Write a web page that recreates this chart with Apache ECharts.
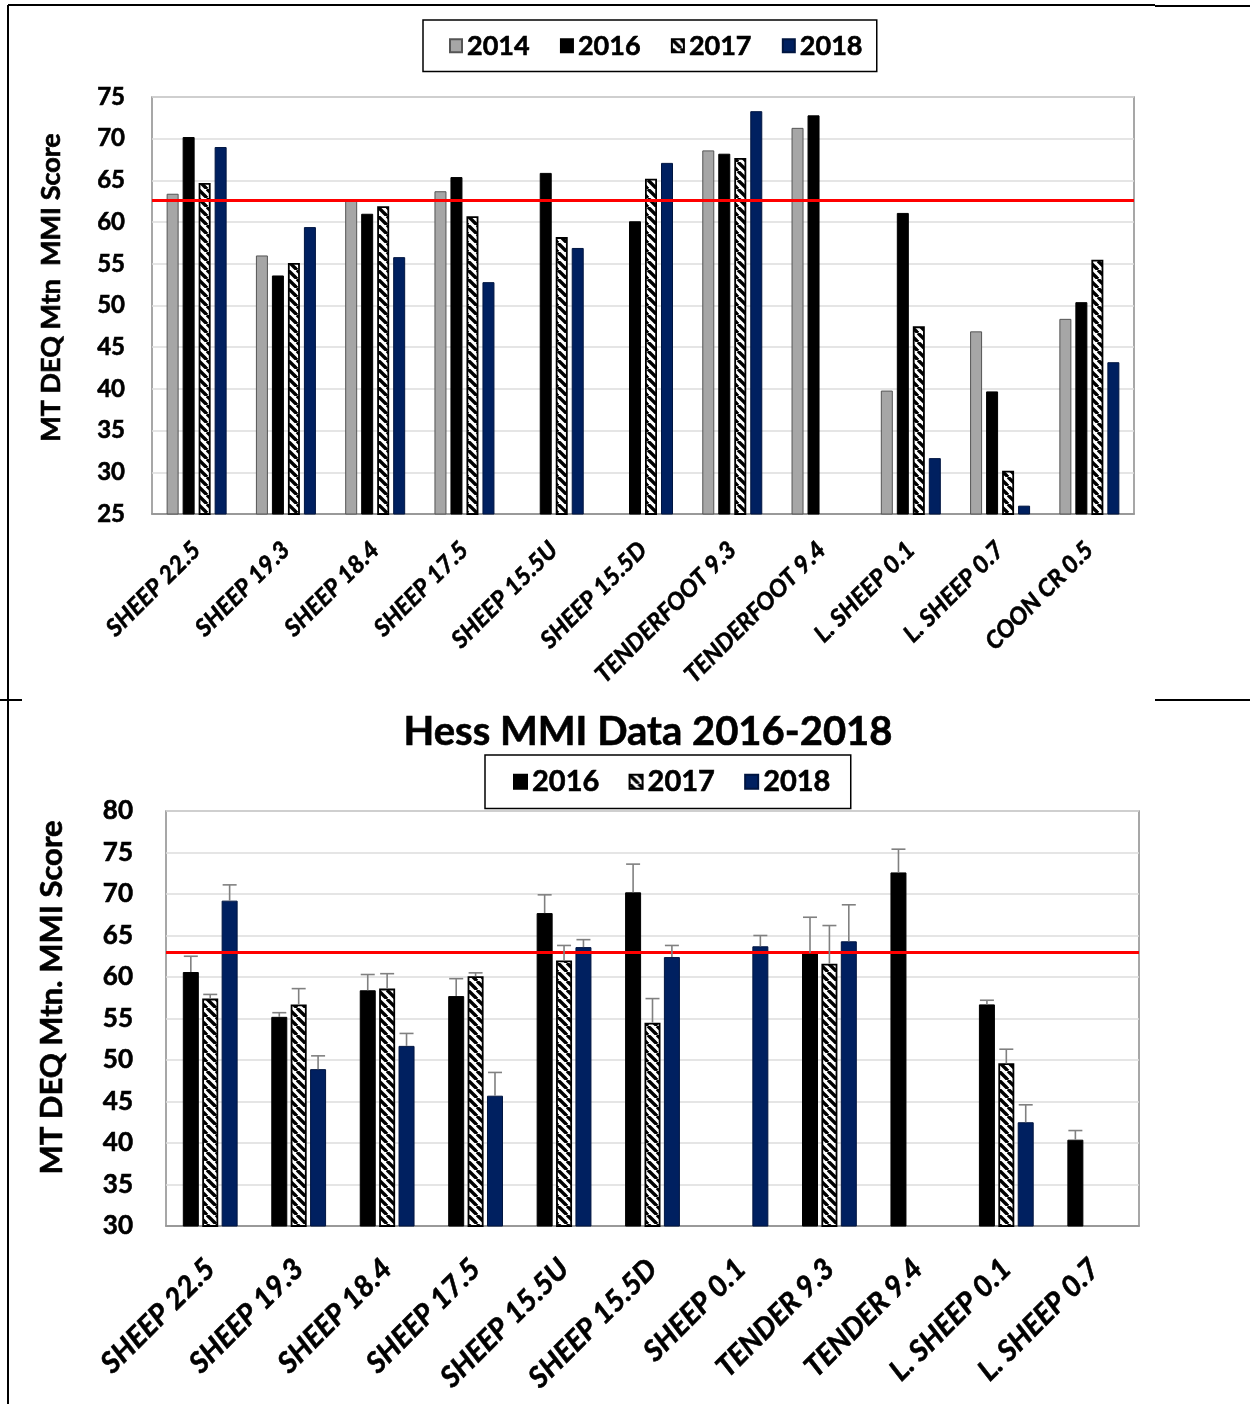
<!DOCTYPE html>
<html>
<head>
<meta charset="utf-8">
<title>MMI Scores</title>
<script src="https://cdn.jsdelivr.net/npm/echarts@6/dist/echarts.min.js"></script>
<style>
  html, body { margin: 0; padding: 0; background: #fff; }
  #chart { width: 1250px; height: 1404px; }
</style>
</head>
<body>
<div id="chart"></div>
<script>
// ---- Upper chart: MT DEQ Mtn MMI scores, 2014-2018 ----
const sitesA = ['SHEEP 22.5', 'SHEEP 19.3', 'SHEEP 18.4', 'SHEEP 17.5', 'SHEEP 15.5U', 'SHEEP 15.5D',
  'TENDERFOOT 9.3', 'TENDERFOOT 9.4', 'L. SHEEP 0.1', 'L. SHEEP 0.7', 'COON CR 0.5'];
const a2014 = [63.4, 56.0, 62.6, 63.7, null, null, 68.6, 71.3, 39.8, 46.9, 48.4];
const a2016 = [70.2, 53.6, 61.0, 65.4, 65.9, 60.1, 68.2, 72.8, 61.1, 39.7, 50.4];
const a2017 = [64.7, 55.1, 61.9, 60.7, 58.2, 65.2, 67.7, null, 47.5, 30.2, 55.5];
const a2018 = [69.0, 59.4, 55.8, 52.8, 56.9, 67.1, 73.3, null, 31.7, 26.0, 43.2];
const thresholdA = 62.6;

// ---- Lower chart: Hess MMI data 2016-2018 with upper error bars ----
const sitesB = ['SHEEP 22.5', 'SHEEP 19.3', 'SHEEP 18.4', 'SHEEP 17.5', 'SHEEP 15.5U', 'SHEEP 15.5D',
  'SHEEP 0.1', 'TENDER 9.3', 'TENDER 9.4', 'L. SHEEP 0.1', 'L. SHEEP 0.7'];
const b2016 = [60.6, 55.2, 58.4, 57.7, 67.7, 70.2, null, 62.9, 72.6, 56.7, 40.4];
const b2017 = [57.4, 56.7, 58.6, 60.1, 62.0, 54.5, null, 61.6, null, 49.6, null];
const b2018 = [69.2, 48.9, 51.7, 45.7, 63.6, 62.4, 63.7, 64.3, null, 42.5, null];
const e2016 = [1.9, 0.5, 1.9, 2.1, 2.2, 3.4, null, 4.3, 2.8, 0.5, 1.1];
const e2017 = [0.5, 1.9, 1.8, 0.4, 1.8, 2.9, null, 4.6, null, 1.7, null];
const e2018 = [1.9, 1.6, 1.5, 2.8, 0.9, 1.4, 1.3, 4.4, null, 2.1, null];
const thresholdB = 63;

const yTicksA = { min: 25, max: 75, interval: 5 };
const yTicksB = { min: 30, max: 80, interval: 5 };

// colours
const GRAY = '#a6a6a6';
const NAVY = '#002060';
const FONT = 'Lato, "Open Sans", sans-serif';

// wide downward-diagonal hatch used for the 2017 bars
function hatchPattern() {
  const n = 9;
  const c = document.createElement('canvas');
  c.width = n; c.height = n;
  const ctx = c.getContext('2d');
  ctx.fillStyle = '#fff';
  ctx.fillRect(0, 0, n, n);
  ctx.strokeStyle = '#000';
  ctx.lineWidth = 3.4;
  [-n, 0, n].forEach(function (x0) {
    ctx.beginPath();
    ctx.moveTo(x0, 0);
    ctx.lineTo(x0 + n, n);
    ctx.stroke();
  });
  return c;
}
const HATCH = { image: hatchPattern(), repeat: 'repeat' };

const styles = {
  '2014': { color: GRAY, borderColor: '#555', borderWidth: 1 },
  '2016': { color: '#000', borderColor: '#000', borderWidth: 1 },
  '2017': { color: HATCH, borderColor: '#000', borderWidth: 1.8 },
  '2018': { color: NAVY, borderColor: '#001540', borderWidth: 1 }
};

const barWA = 12, gapA = 4;
const barWB = 16, gapB = 3.4;

// heavier text, close to a bold office font
function boldText(fs, extra) {
  return Object.assign({
    fontFamily: FONT, fontWeight: 'bold', fontSize: fs, color: '#000',
    textBorderColor: '#000', textBorderWidth: 0.6
  }, extra || {});
}

function barSeries(name, data, axis, bw, gap) {
  return {
    name: name,
    type: 'bar',
    xAxisIndex: axis,
    yAxisIndex: axis,
    data: data,
    barWidth: bw,
    barGap: (gap / bw * 100) + '%',
    itemStyle: styles[name],
    emphasis: { disabled: true },
    animation: false
  };
}

function thresholdLine(value) {
  return {
    silent: true,
    symbol: 'none',
    label: { show: false },
    lineStyle: { color: '#ff0000', width: 3, type: 'solid' },
    data: [{ yAxis: value }]
  };
}

// error bars: stem upward from each bar top with a short cap
const errYears = [
  { vals: b2016, errs: e2016 },
  { vals: b2017, errs: e2017 },
  { vals: b2018, errs: e2018 }
];
const errSeries = errYears.map(function (yr, k) {
  const pts = [];
  yr.vals.forEach(function (v, i) {
    if (v != null && yr.errs[i] != null) pts.push([i, v, yr.errs[i]]);
  });
  const offset = (k - 1) * (barWB + gapB);
  return {
    type: 'custom',
    xAxisIndex: 1,
    yAxisIndex: 1,
    z: 5,
    silent: true,
    animation: false,
    data: pts,
    encode: { x: 0, y: 1 },
    renderItem: function (params, api) {
      const base = api.coord([api.value(0), api.value(1)]);
      const top = api.coord([api.value(0), api.value(1) + api.value(2)]);
      const x = base[0] + offset;
      const st = { stroke: '#808080', lineWidth: 1.6 };
      return {
        type: 'group',
        children: [
          { type: 'line', shape: { x1: x, y1: base[1], x2: x, y2: top[1] }, style: st },
          { type: 'line', shape: { x1: x - 7, y1: top[1], x2: x + 7, y2: top[1] }, style: st }
        ]
      };
    }
  };
});

const seriesA = [
  barSeries('2014', a2014, 0, barWA, gapA),
  barSeries('2016', a2016, 0, barWA, gapA),
  barSeries('2017', a2017, 0, barWA, gapA),
  barSeries('2018', a2018, 0, barWA, gapA)
];
seriesA[0].markLine = thresholdLine(thresholdA);

const seriesB = [
  barSeries('2016', b2016, 1, barWB, gapB),
  barSeries('2017', b2017, 1, barWB, gapB),
  barSeries('2018', b2018, 1, barWB, gapB)
];
seriesB[0].markLine = thresholdLine(thresholdB);

// lift: shifts the rotated axis title upward along the axis
function valueAxis(gi, ticks, name, fs, nameFs, margin, nameGap, lift) {
  return {
    type: 'value',
    gridIndex: gi,
    min: ticks.min, max: ticks.max, interval: ticks.interval,
    name: name,
    nameLocation: 'middle',
    nameRotate: 90,
    nameGap: nameGap,
    nameTextStyle: boldText(nameFs, { padding: [0, 0, 0, lift * 2] }),
    axisLine: { show: false },
    axisTick: { show: false },
    axisLabel: Object.assign(boldText(fs), { margin: margin }),
    splitLine: { lineStyle: { color: '#dcdcdc', width: 1.5 } }
  };
}

function categoryAxis(gi, cats, fs, margin) {
  return {
    type: 'category',
    gridIndex: gi,
    data: cats,
    axisLine: { lineStyle: { color: '#888', width: 1.5 } },
    axisTick: { show: false },
    axisLabel: Object.assign(boldText(fs, { fontStyle: 'italic' }), {
      interval: 0, rotate: 45, margin: margin
    })
  };
}

const option = {
  backgroundColor: '#fff',
  animation: false,
  title: {
    text: 'Hess MMI Data 2016-2018',
    left: 643, textAlign: 'center',
    top: 707,
    textStyle: boldText(40)
  },
  legend: [
    {
      data: ['2014', '2016', '2017', '2018'],
      left: 423, top: 20,
      orient: 'horizontal',
      icon: 'rect',
      itemWidth: 12, itemHeight: 13, itemGap: 30,
      padding: [12, 14, 12, 26],
      borderColor: '#000', borderWidth: 1.5,
      backgroundColor: '#fff',
      textStyle: boldText(27),
      selectedMode: false
    },
    {
      data: ['2016', '2017', '2018'],
      left: 485, top: 755,
      orient: 'horizontal',
      icon: 'rect',
      itemWidth: 13, itemHeight: 14, itemGap: 29,
      padding: [12, 20, 12, 28],
      borderColor: '#000', borderWidth: 1.5,
      backgroundColor: '#fff',
      textStyle: boldText(29),
      selectedMode: false
    }
  ],
  grid: [
    { left: 152, top: 97, width: 982, height: 417, show: true, borderColor: '#8a8a8a', borderWidth: 1.5, backgroundColor: 'transparent' },
    { left: 166, top: 811, width: 973, height: 415, show: true, borderColor: '#8a8a8a', borderWidth: 1.5, backgroundColor: 'transparent' }
  ],
  xAxis: [
    categoryAxis(0, sitesA, 24, 32),
    categoryAxis(1, sitesB, 29, 38)
  ],
  yAxis: [
    valueAxis(0, yTicksA, 'MT DEQ Mtn  MMI Score', 24, 27, 27, 87, 18),
    valueAxis(1, yTicksB, 'MT DEQ Mtn. MMI Score', 26, 31, 33, 99, 21)
  ],
  series: seriesA.concat(seriesB, errSeries),
  graphic: [
    // surrounding table rules
    { type: 'line', shape: { x1: 8, y1: 5, x2: 1155, y2: 5 }, style: { stroke: '#000', lineWidth: 2 } },
    { type: 'line', shape: { x1: 1155, y1: 6, x2: 1250, y2: 6 }, style: { stroke: '#000', lineWidth: 2 } },
    { type: 'line', shape: { x1: 8, y1: 5, x2: 8, y2: 1404 }, style: { stroke: '#000', lineWidth: 2 } },
    { type: 'line', shape: { x1: 0, y1: 700, x2: 22, y2: 700 }, style: { stroke: '#000', lineWidth: 2 } },
    { type: 'line', shape: { x1: 1155, y1: 700, x2: 1250, y2: 700 }, style: { stroke: '#000', lineWidth: 2 } }
  ]
};

const chart = echarts.init(document.getElementById('chart'), null, { renderer: 'canvas' });
chart.setOption(option);
</script>
</body>
</html>
